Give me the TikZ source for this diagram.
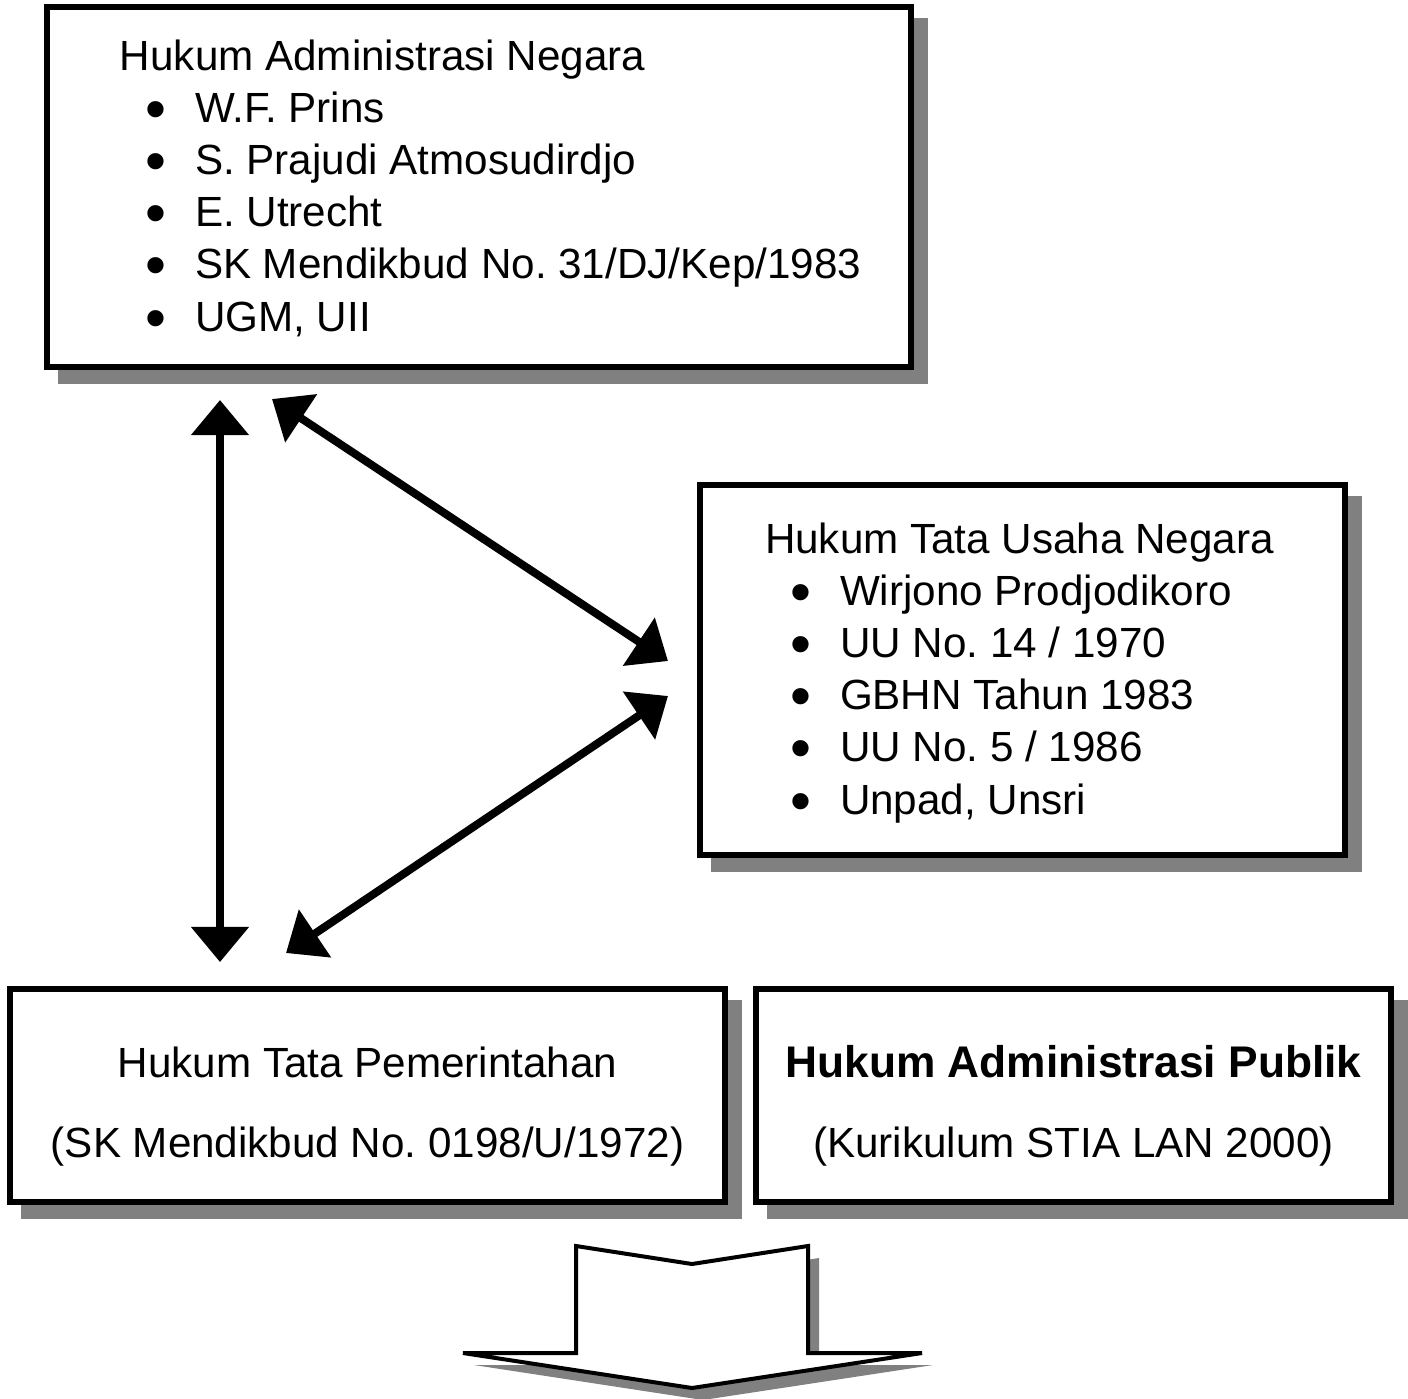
\documentclass[tikz,border=0pt]{standalone}
\usepackage{fontspec}
\setmainfont{Liberation Sans}
\usetikzlibrary{arrows.meta}
\definecolor{shadowgray}{gray}{0.5}
\frenchspacing
\tikzset{
  frame/.style={rectangle, draw=black, fill=white, line width=0.06cm,
    inner sep=0pt, outer sep=0pt,
    preaction={draw=shadowgray, fill=shadowgray,
      transform canvas={xshift=0.14cm, yshift=-0.14cm}}},
  txt/.style={font=\fontsize{12pt}{14pt}\selectfont, inner sep=0pt, outer sep=0pt},
  bul/.style={font=\fontsize{17pt}{17pt}\selectfont, inner sep=0pt, outer sep=0pt},
  boldtxt/.style={font=\fontsize{12.6pt}{14pt}\selectfont\bfseries, inner sep=0pt, outer sep=0pt},
  link/.style={line width=0.08cm, {Triangle[length=0.35cm, width=0.56cm]}-{Triangle[length=0.35cm, width=0.56cm]}},
  blockarrow/.style={draw=black, fill=white, line width=0.04cm, line join=miter,
    preaction={fill=shadowgray, draw=none,
      transform canvas={xshift=0.11cm, yshift=-0.12cm}}}
}
\begin{document}
\begin{tikzpicture}[x=0.01cm, y=-0.01cm]
\useasboundingbox (0,0) rectangle (1408,1399);

% frames
\node[frame, minimum width=8.64cm, minimum height=3.60cm] (han) at (479,187) {};
\node[frame, minimum width=6.45cm, minimum height=3.70cm] (htun) at (1022.5,670) {};
\node[frame, minimum width=7.15cm, minimum height=2.13cm] (htp) at (367.5,1095.5) {};
\node[frame, minimum width=6.35cm, minimum height=2.13cm] (hap) at (1073.5,1095.5) {};

% Hukum Administrasi Negara
\node[txt, anchor=base west] (hanT) at (120,70) {Hukum Administrasi Negara};
\foreach \t [count=\i] in {W.F. Prins, S. Prajudi Atmosudirdjo, E. Utrecht,
    SK Mendikbud No. 31/DJ/Kep/1983, {UGM, UII}} {
  \node[bul, anchor=base] (hanB\i) at (156,77+52.2*\i) {\textbullet};
  \node[txt, anchor=base west] (hanL\i) at (195,70+52.2*\i) {\t};
}

% Hukum Tata Usaha Negara
\node[txt, anchor=base west] (htunT) at (765,553) {Hukum Tata Usaha Negara};
\foreach \t [count=\i] in {Wirjono Prodjodikoro, UU No. 14 / 1970, GBHN Tahun 1983,
    UU No. 5 / 1986, {Unpad, Unsri}} {
  \node[bul, anchor=base] (htunB\i) at (801,560+52.2*\i) {\textbullet};
  \node[txt, anchor=base west] (htunL\i) at (840,553+52.2*\i) {\t};
}

% Hukum Tata Pemerintahan
\node[txt, anchor=base] (htpT) at (367.5,1077) {Hukum Tata Pemerintahan};
\node[txt, anchor=base] (htpS) at (367.5,1157) {(SK Mendikbud No. 0198/U/1972)};

% Hukum Administrasi Publik
\node[boldtxt, anchor=base] (hapT) at (1073.5,1077) {Hukum Administrasi Publik};
\node[txt, anchor=base] (hapS) at (1073.5,1157) {(Kurikulum STIA LAN 2000)};

% connector end points
\coordinate (vTop) at (220,400);
\coordinate (vBot) at (220,962);
\coordinate (dAtop) at (272,399);
\coordinate (dAright) at (668,661);
\coordinate (dBbot) at (286,953);
\coordinate (dBright) at (668,696);

\draw[link] (vTop) -- (vBot);
\draw[link] (dAtop) -- (dAright);
\draw[link] (dBbot) -- (dBright);

% downward block arrow
\draw[blockarrow] (576,1246) -- (692,1264) -- (808,1246) -- (808,1353)
  -- (922,1353) -- (692,1388) -- (463,1353) -- (576,1353) -- cycle;
\end{tikzpicture}
\end{document}
